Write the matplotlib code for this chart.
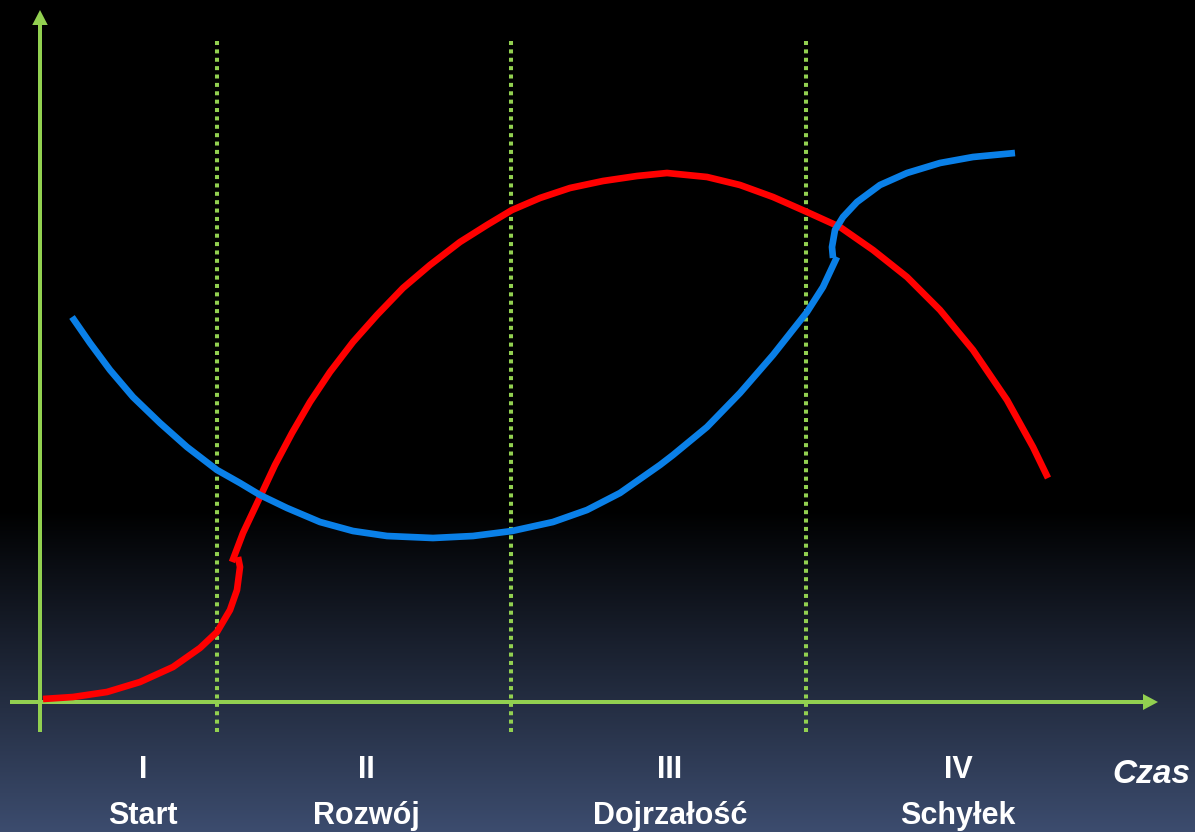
import numpy as np
import matplotlib
matplotlib.use("Agg")
import matplotlib.pyplot as plt

# stage boundaries on the time axis
stage_edges = [17.7, 47.1, 76.6]
stage_numbers = ["I", "II", "III", "IV"]
stage_names = ["Start", "Rozwój", "Dojrzałość", "Schyłek"]
stage_label_t = [10.3, 32.6, 63.0, 91.8]

# red curve: rise from the origin, then the main arc
red_low_t = [0.3, 3.3, 6.7, 10.0, 13.3, 16.0, 17.7, 19.0, 19.7, 20.0, 19.8]
red_low_v = [0.3, 0.5, 1.0, 2.0, 3.5, 5.4, 7.0, 9.2, 11.2, 13.5, 14.5]
red_high_t = [19.2, 20.3, 22.0, 23.5, 25.2, 27.0, 29.0, 31.3, 33.7, 36.3, 39.0,
              42.0, 44.7, 47.2, 50.0, 53.0, 56.3, 59.7, 62.7, 66.7, 70.0, 73.3,
              76.7, 80.0, 83.3, 86.7, 90.0, 93.3, 96.7, 99.3, 100.8]
red_high_v = [14.0, 16.9, 20.5, 23.7, 26.9, 30.0, 33.0, 36.0, 38.7, 41.4, 43.7,
              46.0, 47.7, 49.2, 50.4, 51.4, 52.1, 52.6, 52.9, 52.5, 51.7, 50.5,
              49.0, 47.5, 45.2, 42.5, 39.2, 35.2, 30.2, 25.5, 22.4]

# blue curve: U-shaped part, then the upper branch
blue_low_t = [3.2, 5.0, 7.0, 9.3, 12.0, 14.7, 17.7, 20.0, 22.0, 24.7, 28.0,
              31.3, 34.7, 39.3, 43.3, 47.2, 51.3, 54.7, 58.0, 62.0, 63.3, 66.7,
              70.0, 73.3, 76.7, 78.3, 79.7]
blue_low_v = [38.5, 35.9, 33.2, 30.5, 27.9, 25.5, 23.2, 21.9, 20.7, 19.4, 18.0,
              17.1, 16.6, 16.4, 16.6, 17.1, 18.0, 19.2, 20.9, 23.7, 24.7, 27.5,
              30.9, 34.7, 39.0, 41.5, 44.5]
blue_high_t = [79.3, 79.2, 79.5, 80.3, 81.7, 84.0, 86.7, 90.0, 93.3, 97.5]
blue_high_v = [44.4, 45.5, 47.2, 48.5, 50.0, 51.7, 52.9, 53.9, 54.5, 54.9]

GREEN = "#92d050"
RED = "#ff0000"
BLUE = "#0a80e8"
LABEL_FONT = ["Liberation Sans", "DejaVu Sans"]

fig = plt.figure(figsize=(11.95, 8.32), dpi=100)
ax = fig.add_axes([0, 0, 1, 1])
x0, x1, y0, y1 = -4.0, 115.5, -13.0, 70.2
ax.set_xlim(x0, x1)
ax.set_ylim(y0, y1)
ax.axis("off")

# background: black fading into slate blue towards the bottom
v = np.linspace(y0, y1, 400)
frac = np.clip((19.2 - v) / (19.2 - y0), 0, 1)
bottom = np.array([60, 76, 110]) / 255.0
grad = frac[:, None, None] * bottom[None, None, :]
ax.imshow(grad, extent=[x0, x1, y0, y1], origin="lower", aspect="auto",
          interpolation="bilinear", zorder=0)

# axes with arrow heads
ax.arrow(0, -3.0, 0, 72.2, width=0.4, head_width=1.55, head_length=1.5,
         length_includes_head=True, color=GREEN, lw=0, zorder=2)
ax.arrow(-3.0, 0, 114.8, 0, width=0.4, head_width=1.6, head_length=1.5,
         length_includes_head=True, color=GREEN, lw=0, zorder=2)

# dotted stage separators
ax.vlines(stage_edges, -3.0, 66.2, colors=GREEN, linewidth=2.9,
          linestyles=(0, (1, 1.08)), zorder=2)

curve_kw = dict(linewidth=4.8, solid_capstyle="butt", solid_joinstyle="round")
ax.plot(red_low_t, red_low_v, color=RED, zorder=3, **curve_kw)
ax.plot(red_high_t, red_high_v, color=RED, zorder=3, **curve_kw)
ax.plot(blue_low_t, blue_low_v, color=BLUE, zorder=4, **curve_kw)
ax.plot(blue_high_t, blue_high_v, color=BLUE, zorder=4, **curve_kw)

for t, num, name in zip(stage_label_t, stage_numbers, stage_names):
    ax.text(t, -7.6, num, ha="center", va="baseline", color="white",
            fontsize=22, fontweight="bold", family=LABEL_FONT, zorder=5)
    ax.text(t, -12.2, name, ha="center", va="baseline", color="white",
            fontsize=22, fontweight="bold", family=LABEL_FONT, zorder=5)

ax.text(111.1, -8.1, "Czas", ha="center", va="baseline", color="white",
        fontsize=24, fontweight="bold", fontstyle="italic",
        family=LABEL_FONT, zorder=5)

fig.savefig("out.png", dpi=100, facecolor="black")
